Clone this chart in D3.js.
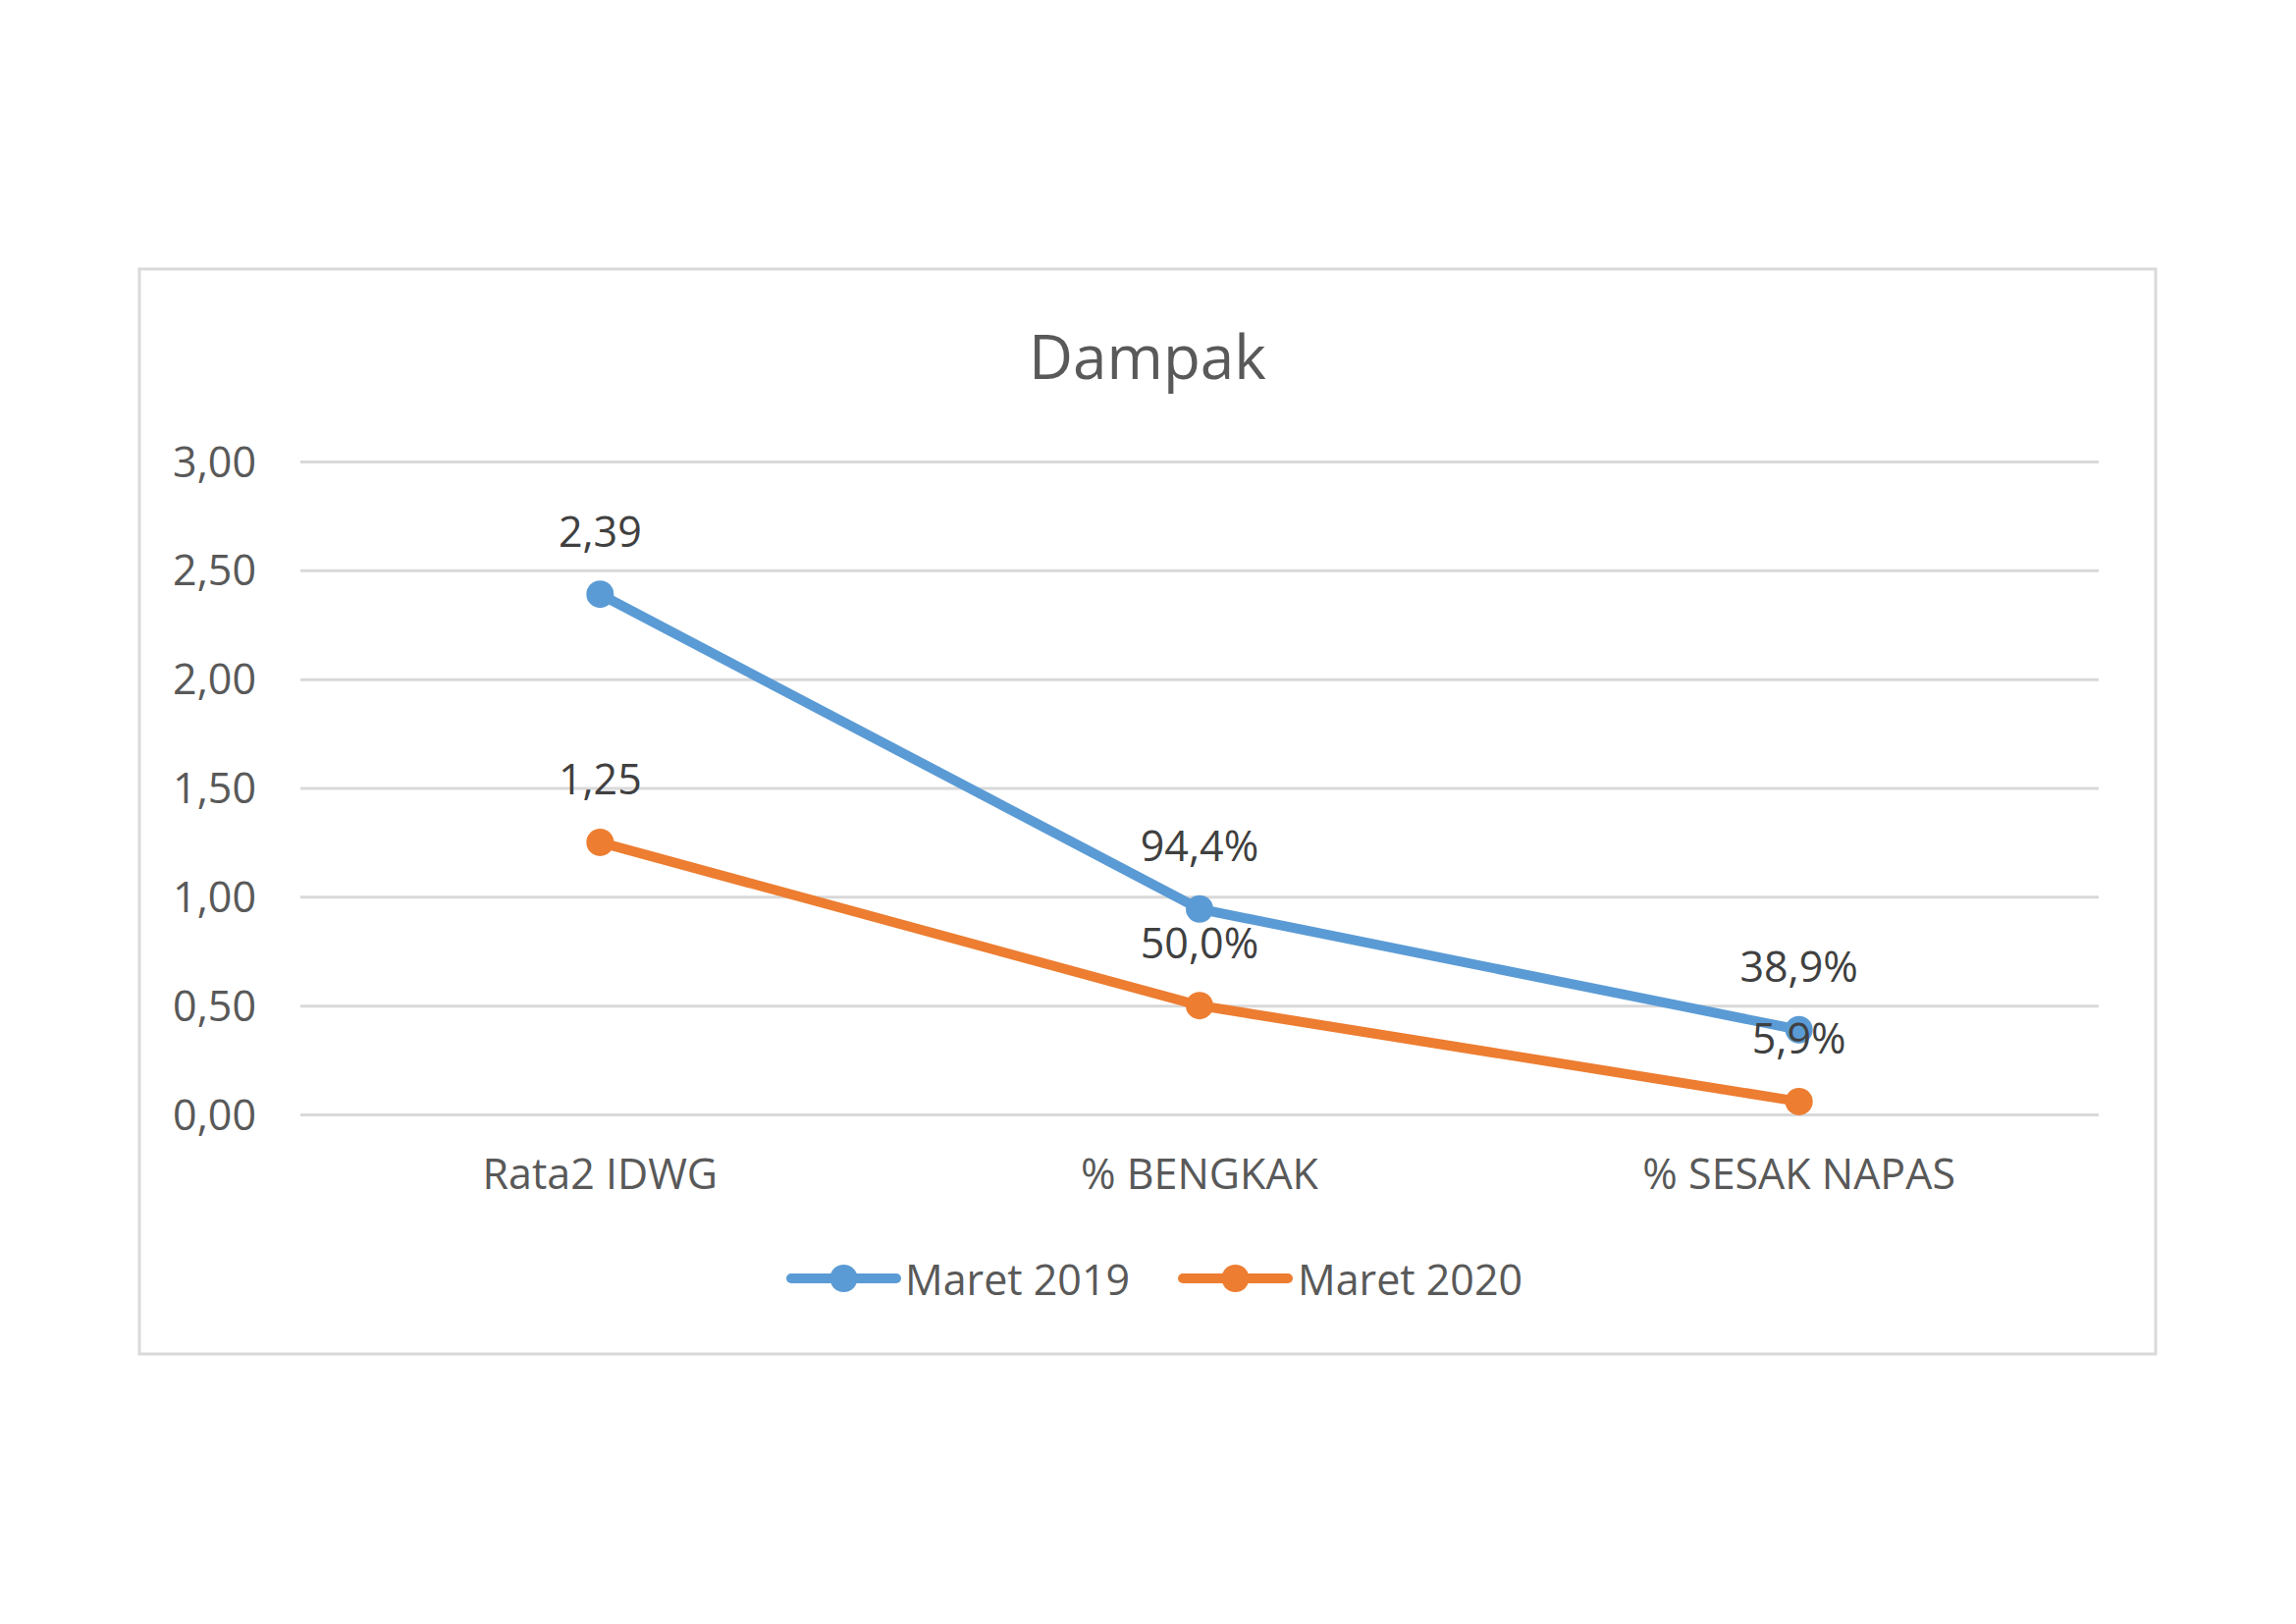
<!DOCTYPE html>
<html>
<head>
<meta charset="utf-8">
<script src="https://cdn.jsdelivr.net/npm/d3@7"></script>
<style>
  html, body { margin: 0; padding: 0; background: #ffffff; }
  svg { display: block; font-family: "Open Sans", sans-serif; }
</style>
</head>
<body>
<svg id="chart" width="2339" height="1654"></svg>
<script>
// ---- data ----
const title = "Dampak";
const categories = ["Rata2 IDWG", "% BENGKAK", "% SESAK NAPAS"];
const seriesNames = ["Maret 2019", "Maret 2020"];
const maret2019 = [2.39, 0.944, 0.389];
const maret2020 = [1.25, 0.50, 0.059];
const labels2019 = ["2,39", "94,4%", "38,9%"];
const labels2020 = ["1,25", "50,0%", "5,9%"];
const yTicks = [0, 0.5, 1, 1.5, 2, 2.5, 3];
const colors = ["#5b9bd5", "#ed7d31"];

const series = [
  { name: seriesNames[0], values: maret2019, labels: labels2019, color: colors[0] },
  { name: seriesNames[1], values: maret2020, labels: labels2020, color: colors[1] }
];

// ---- layout ----
const svg = d3.select("#chart");
const frame = { x: 142, y: 274, w: 2054, h: 1105 };
const plot = { left: 306, right: 2138, top: 470, bottom: 1135 };

svg.append("rect")
  .attr("x", frame.x).attr("y", frame.y)
  .attr("width", frame.w).attr("height", frame.h)
  .attr("fill", "#ffffff").attr("stroke", "#d9d9d9").attr("stroke-width", 3);

svg.append("text")
  .attr("x", 1169).attr("y", 362)
  .attr("text-anchor", "middle").attr("dominant-baseline", "central")
  .attr("fill", "#595959").attr("font-size", 62)
  .text(title);

const x = d3.scaleBand().domain(categories).range([plot.left, plot.right]).padding(0);
const y = d3.scaleLinear().domain([0, 3]).range([plot.bottom, plot.top]);
const cx = c => x(c) + x.bandwidth() / 2;

// y axis with gridlines
const yAxis = d3.axisLeft(y)
  .tickValues(yTicks)
  .tickSize(-(plot.right - plot.left))
  .tickPadding(45)
  .tickFormat(d => d3.format(".2f")(d).replace(".", ","));
const gy = svg.append("g").attr("transform", `translate(${plot.left},0)`).call(yAxis);
gy.select(".domain").remove();
gy.selectAll(".tick line").attr("stroke", "#d9d9d9").attr("stroke-width", 3);
gy.selectAll(".tick text")
  .attr("fill", "#595959").attr("font-size", 43)
  .attr("font-family", "Open Sans, sans-serif")
  .attr("dy", "0.35em");

// x axis labels
const xAxis = d3.axisBottom(x).tickSize(0).tickPadding(0);
const gx = svg.append("g").attr("transform", `translate(0,${plot.bottom})`).call(xAxis);
gx.select(".domain").remove();
gx.selectAll(".tick text")
  .attr("fill", "#595959").attr("font-size", 43)
  .attr("font-family", "Open Sans, sans-serif")
  .attr("y", 61).attr("dy", "0.35em");

// lines
const line = d3.line().x((d, i) => cx(categories[i])).y(d => y(d));
series.forEach(s => {
  svg.append("path")
    .datum(s.values)
    .attr("d", line)
    .attr("fill", "none")
    .attr("stroke", s.color)
    .attr("stroke-width", 10)
    .attr("stroke-linejoin", "round")
    .attr("stroke-linecap", "round");
});
series.forEach(s => {
  svg.append("g").selectAll("circle")
    .data(s.values).join("circle")
    .attr("cx", (d, i) => cx(categories[i]))
    .attr("cy", d => y(d))
    .attr("r", 14)
    .attr("fill", s.color);
});
// data labels
series.forEach(s => {
  svg.append("g").selectAll("text")
    .data(s.values).join("text")
    .attr("x", (d, i) => cx(categories[i]))
    .attr("y", d => y(d) - 65)
    .attr("text-anchor", "middle")
    .attr("dominant-baseline", "central")
    .attr("fill", "#404040").attr("font-size", 43)
    .text((d, i) => s.labels[i]);
});

// legend
const legendItems = [
  { lx: 806, tx: 922 },
  { lx: 1205, tx: 1322 }
];
const ly = 1302;
series.forEach((s, i) => {
  const g = svg.append("g");
  g.append("line")
    .attr("x1", legendItems[i].lx).attr("x2", legendItems[i].lx + 107)
    .attr("y1", ly).attr("y2", ly)
    .attr("stroke", s.color).attr("stroke-width", 10).attr("stroke-linecap", "round");
  g.append("circle")
    .attr("cx", legendItems[i].lx + 53.5).attr("cy", ly).attr("r", 14)
    .attr("fill", s.color);
  g.append("text")
    .attr("x", legendItems[i].tx).attr("y", ly)
    .attr("dominant-baseline", "central")
    .attr("fill", "#595959").attr("font-size", 43)
    .text(s.name);
});
</script>
</body>
</html>
